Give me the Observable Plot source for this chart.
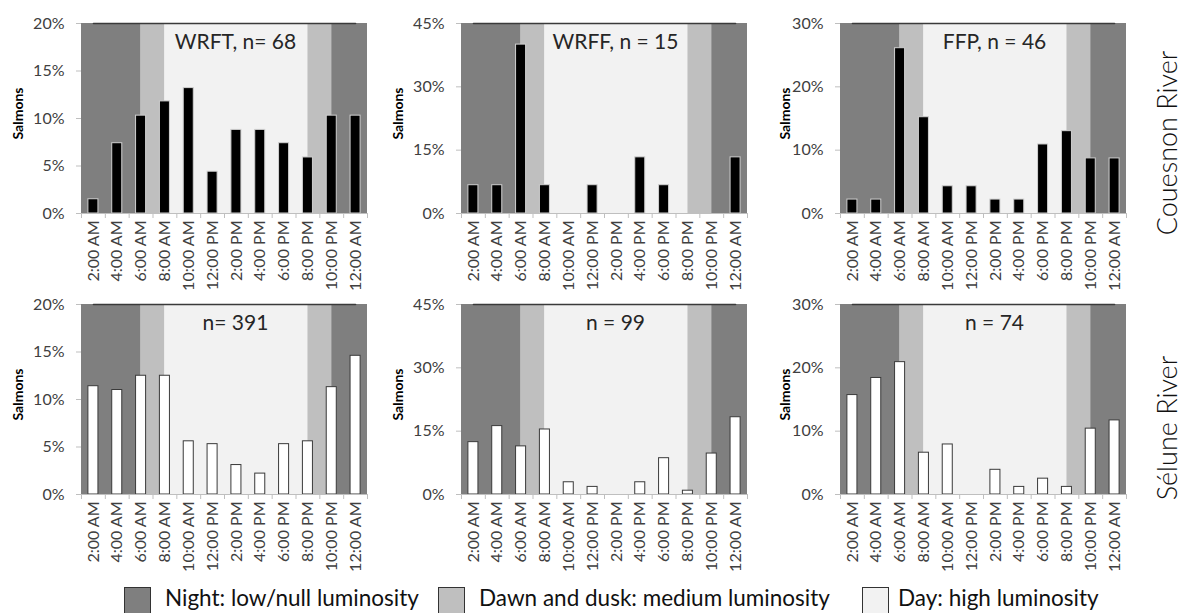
<!DOCTYPE html>
<html>
<head>
<meta charset="utf-8">
<script src="https://cdn.jsdelivr.net/npm/d3@7"></script>
<script src="https://cdn.jsdelivr.net/npm/@observablehq/plot@0.6"></script>
<style>
  html, body { margin: 0; padding: 0; background: #fff; }
  #chart { position: relative; width: 1184px; height: 613px; overflow: hidden; font-family: Lato, "Open Sans", sans-serif; }
  #chart svg { position: absolute; }
  .river { position: absolute; width: 240px; text-align: center; font-size: 27px; line-height: 1; font-weight: 300; color: #111; transform: translate(-50%, -50%) rotate(-90deg); white-space: nowrap; }
  .leg-box { position: absolute; top: 587px; width: 27px; height: 28px; border: 1px solid #333; box-sizing: border-box; }
  .leg-text { position: absolute; top: 585px; font-size: 22.5px; color: #111; white-space: nowrap; line-height: 26px; }
</style>
</head>
<body>
<div id="chart"></div>
<script>
// ---- data ----
const hours = [2, 4, 6, 8, 10, 12, 14, 16, 18, 20, 22, 24];
const hourLabels = ["2:00 AM", "4:00 AM", "6:00 AM", "8:00 AM", "10:00 AM", "12:00 PM",
                    "2:00 PM", "4:00 PM", "6:00 PM", "8:00 PM", "10:00 PM", "12:00 AM"];

// Couesnon River (% of salmons per 2-h bin)
const wrft = [1.5, 7.4, 10.3, 11.8, 13.2, 4.4, 8.8, 8.8, 7.4, 5.9, 10.3, 10.3];
const wrff = [6.7, 6.7, 40.0, 6.7, 0, 6.7, 0, 13.3, 6.7, 0, 0, 13.3];
const ffp  = [2.2, 2.2, 26.1, 15.2, 4.3, 4.3, 2.2, 2.2, 10.9, 13.0, 8.7, 8.7];
// Sélune River
const sel391 = [11.4, 11.0, 12.5, 12.5, 5.6, 5.3, 3.1, 2.2, 5.3, 5.6, 11.3, 14.6];
const sel99  = [12.4, 16.2, 11.4, 15.4, 2.9, 1.8, 0, 2.9, 8.6, 0.9, 9.7, 18.3];
const sel74  = [15.7, 18.4, 20.9, 6.6, 7.9, 0, 3.9, 1.2, 2.5, 1.2, 10.4, 11.7];

const panelTitles = ["WRFT, n= 68", "WRFF, n = 15", "FFP, n = 46", "n= 391", "n = 99", "n = 74"];
const yMaxByCol = [20, 45, 30];
const yStepByCol = [5, 15, 10];
const rivers = ["Couesnon River", "Sélune River"];

// luminosity periods (hours of day)
const periodStart = [0, 5, 7, 19, 21];
const periodEnd   = [5, 7, 19, 21, 24];
const periodKind  = ["night", "twilight", "day", "twilight", "night"];
const kindNames = ["night", "twilight", "day"];
const kindColors = ["#7f7f7f", "#bfbfbf", "#f2f2f2"];
const legendLabels = ["Night: low/null luminosity", "Dawn and dusk: medium luminosity", "Day: high luminosity"];

// ---- drawing ----
const FONT = 'Lato, "Open Sans", sans-serif';
const chart = document.getElementById("chart");

function panel(values, title, col, bright) {
  const ymax = yMaxByCol[col];
  const step = yStepByCol[col];
  const rows = hours.map((h, i) => ({h, v: values[i]})).filter(d => d.v > 0);
  const bands = periodStart.map((s, i) => ({s, e: periodEnd[i], k: periodKind[i]}));
  return Plot.plot({
    width: 380, height: 290,
    marginLeft: 81, marginRight: 13, marginTop: 23, marginBottom: 77,
    style: {fontFamily: FONT, background: "transparent", overflow: "visible"},
    x: {type: "linear", domain: [0, 24], axis: null},
    y: {domain: [0, ymax], axis: null},
    color: {domain: kindNames, range: kindColors},
    marks: [
      Plot.rect(bands, {x1: "s", x2: "e", fill: "k"}),
      Plot.lineY([hours[0], hours[hours.length - 1]], {x: d => d - 1, y: () => ymax, stroke: "#3a3a3a", strokeWidth: 1.5}),
      Plot.rectY(rows, {
        x1: d => d.h - 2, x2: "h", y: "v",
        insetLeft: 6.9, insetRight: 6.9,
        fill: bright ? "#ffffff" : "#000000",
        stroke: bright ? "#3a3a3a" : "#d0d0d0", strokeWidth: 1
      }),
      Plot.ruleY([0], {stroke: "#bfbfbf", strokeWidth: 1}),
      Plot.axisY({ticks: d3.range(0, ymax + 1, step), tickFormat: d => d + "%", tickSize: 5, tickPadding: 12,
                  label: null, stroke: "#bfbfbf", fill: "#404040", fontSize: 16}),
      Plot.axisX({ticks: d3.range(0, 25, 2), tickFormat: () => "", tickSize: 5, label: null, stroke: "#bfbfbf"}),
      Plot.axisX({ticks: hours.map(h => h - 1), tickFormat: d => hourLabels[hours.indexOf(d + 1)],
                  tickSize: 0, tickPadding: 7, tickRotate: -90, label: null, fill: "#404040", fontSize: 16}),
      Plot.text([title], {text: d => d, frameAnchor: "top", dx: 11, dy: 19, fontSize: 21, fill: "#262626", lineAnchor: "middle"}),
      Plot.text(["Salmons"], {text: d => d, frameAnchor: "left", dx: col === 2 ? -55 : -63, dy: -5, rotate: -90,
                  textAnchor: "middle", fontWeight: "bold", fontSize: 14, fill: "#000"})
    ]
  });
}

const allValues = [wrft, wrff, ffp, sel391, sel99, sel74];
const colLeft = [0, 380, 759];
const rowTop = [0, 281];
allValues.forEach((vals, i) => {
  const row = Math.floor(i / 3), col = i % 3;
  const svg = panel(vals, panelTitles[i], col, row === 1);
  svg.style.left = colLeft[col] + "px";
  svg.style.top = rowTop[row] + "px";
  chart.appendChild(svg);
});

// river labels
const riverCenterY = [143, 428];
rivers.forEach((r, i) => {
  const d = document.createElement("div");
  d.className = "river";
  d.textContent = r;
  d.style.left = "1166px";
  d.style.top = riverCenterY[i] + "px";
  chart.appendChild(d);
});

// legend
const legBoxX = [124, 438, 862];
const legTextX = [165, 479, 898];
legendLabels.forEach((t, i) => {
  const b = document.createElement("div");
  b.className = "leg-box";
  b.style.left = legBoxX[i] + "px";
  b.style.background = kindColors[i];
  chart.appendChild(b);
  const s = document.createElement("div");
  s.className = "leg-text";
  s.style.left = legTextX[i] + "px";
  s.textContent = t;
  chart.appendChild(s);
});
</script>
</body>
</html>
